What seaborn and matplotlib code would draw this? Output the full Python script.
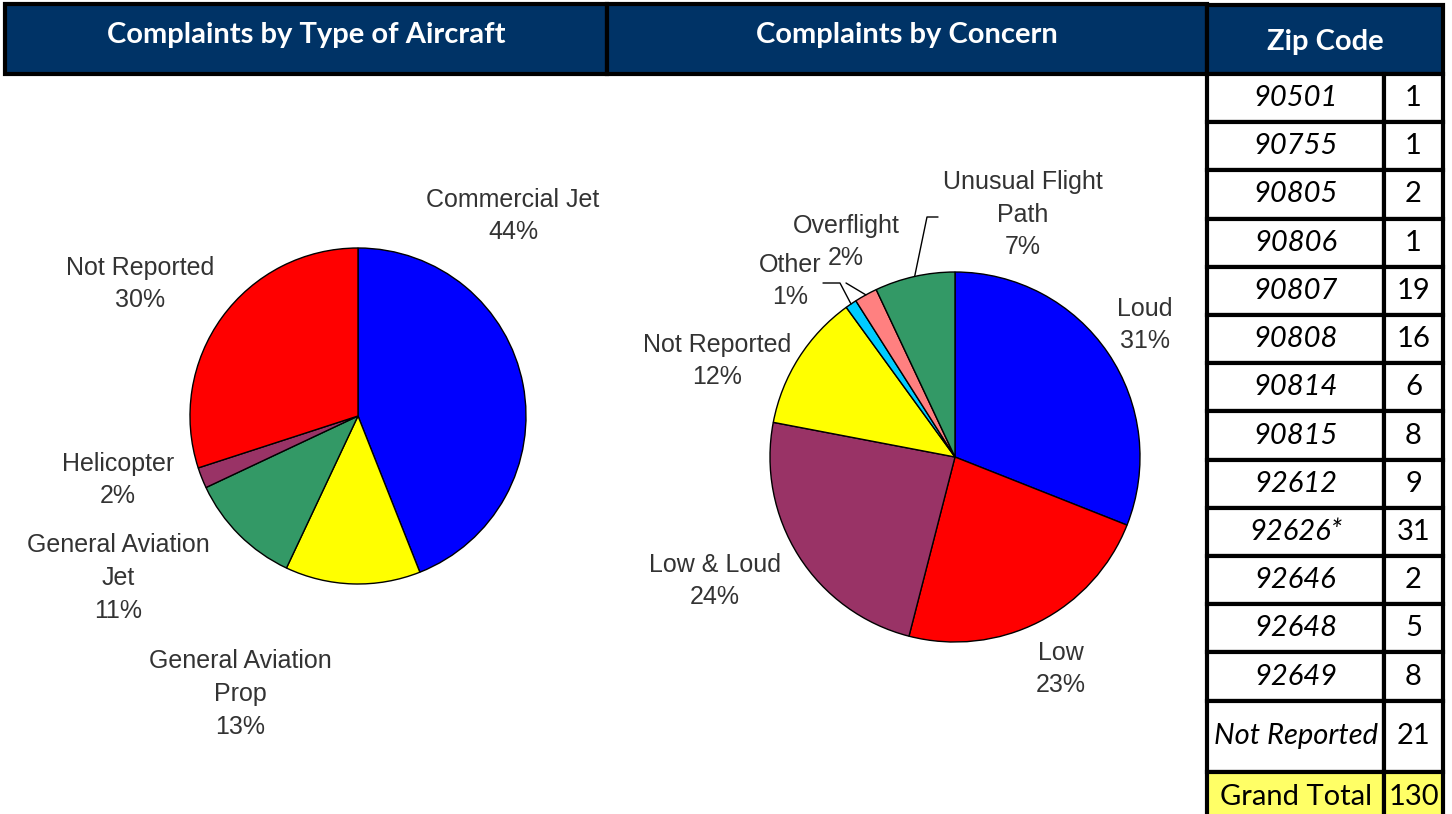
import numpy as np
import matplotlib
matplotlib.use('Agg')
import matplotlib.pyplot as plt
from matplotlib.patches import Rectangle
import seaborn as sns

# --- Data ---
aircraft_types = ['Commercial Jet', 'General Aviation\nProp', 'General Aviation\nJet', 'Helicopter', 'Not Reported']
aircraft_pct = [44, 13, 11, 2, 30]
aircraft_colors = ['#0000FF', '#FFFF00', '#339966', '#993366', '#FF0000']

concerns = ['Loud', 'Low', 'Low & Loud', 'Not Reported', 'Other', 'Overflight', 'Unusual Flight\nPath']
concern_pct = [31, 23, 24, 12, 1, 2, 7]
concern_colors = ['#0000FF', '#FF0000', '#993366', '#FFFF00', '#00CCFF', '#FF8080', '#339966']

zip_codes = ['90501', '90755', '90805', '90806', '90807', '90808', '90814', '90815',
             '92612', '92626*', '92646', '92648', '92649', 'Not Reported']
zip_counts = [1, 1, 2, 1, 19, 16, 6, 8, 9, 31, 2, 5, 8, 21]
grand_total = 130

sns.set_theme(style='white')
plt.rcParams['font.family'] = ['Liberation Sans', 'DejaVu Sans']

W, H = 1452, 814
fig = plt.figure(figsize=(W / 100, H / 100), dpi=100)
ax = fig.add_axes([0, 0, 1, 1])

NAVY = '#003366'
TXT = '#333333'
LABEL_FS = 18
LINE_PX = 32.5
TABLE_FS = 21


def Y(py):
    # pixel row (from top) -> data y
    return H - py


# --- Header boxes ---
for x0, x1, title in [(5, 607, 'Complaints by Type of Aircraft'),
                      (607, 1207, 'Complaints by Concern')]:
    ax.add_patch(Rectangle((x0, Y(74)), x1 - x0, 70, facecolor=NAVY,
                           edgecolor='black', linewidth=3, zorder=3))
    ax.text((x0 + x1) / 2, Y(35), title, color='white', fontsize=21,
            fontweight='bold', family='Lato', ha='center', va='center', zorder=4)


def draw_pie(values, colors, cx, cy, r):
    wedges, _ = ax.pie(values, colors=colors, startangle=90, counterclock=False,
                       center=(cx, Y(cy)), radius=r,
                       wedgeprops=dict(edgecolor='black', linewidth=1))
    return wedges


def edge_point(values, idx, cx, cy, r):
    total = sum(values)
    mid = (sum(values[:idx]) + values[idx] / 2) / total
    ang = np.deg2rad(90 - 360 * mid)
    return cx + r * np.cos(ang), Y(cy) + r * np.sin(ang)


def label(name, pct, lx, ly):
    lines = name.split('\n') + [f'{pct}%']
    n = len(lines)
    for i, line in enumerate(lines):
        ax.text(lx, Y(ly + (i - (n - 1) / 2) * LINE_PX), line, ha='center', va='center',
                fontsize=LABEL_FS, color=TXT)


# --- Pie 1: aircraft type ---
draw_pie(aircraft_pct, aircraft_colors, 358, 416, 168)
label_pos1 = [(513, 216), (240, 694), (118, 578), (118, 480), (140, 284)]
for name, pct, (lx, ly) in zip(aircraft_types, aircraft_pct, label_pos1):
    label(name, pct, lx, ly)

# --- Pie 2: concern ---
draw_pie(concern_pct, concern_colors, 955, 457, 185)
label_pos2 = [(1145, 325), (1061, 669), (715, 581), (717, 361), (790, 281), (846, 242), (1023, 215)]
for name, pct, (lx, ly) in zip(concerns, concern_pct, label_pos2):
    label(name, pct, lx, ly)

# leader lines for small slices
leaders = {6: [(938, 217), (927, 217)], 5: [(846, 283)], 4: [(823, 283), (840, 283)]}
for idx, pts in leaders.items():
    ex, ey = edge_point(concern_pct, idx, 955, 457, 185)
    xs = [p[0] for p in pts] + [ex]
    ys = [Y(p[1]) for p in pts] + [ey]
    ax.plot(xs, ys, color='black', linewidth=1, zorder=5)

# --- Zip code table ---
tx0, tx_mid, tx1 = 1207, 1384, 1443
ax.add_patch(Rectangle((tx0, Y(74)), tx1 - tx0, 69, facecolor=NAVY,
                       edgecolor='black', linewidth=3, zorder=3))
ax.text((tx0 + tx1) / 2, Y(42), 'Zip Code', color='white', fontsize=21,
        fontweight='bold', family='Lato', ha='center', va='center', zorder=4)

row_top = 74
row_h = 48.2
for i, (z, c) in enumerate(zip(zip_codes, zip_counts)):
    h = row_h if z != 'Not Reported' else 71
    top = row_top
    for x0, x1 in [(tx0, tx_mid), (tx_mid, tx1)]:
        ax.add_patch(Rectangle((x0, Y(top + h)), x1 - x0, h, facecolor='white',
                               edgecolor='black', linewidth=3, zorder=3))
    ax.text((tx0 + tx_mid) / 2, Y(top + h / 2), z, fontsize=TABLE_FS, style='italic',
            family='Lato', color='black', ha='center', va='center', zorder=4)
    ax.text((tx_mid + tx1) / 2, Y(top + h / 2), str(c), fontsize=TABLE_FS,
            family='Lato', color='black', ha='center', va='center', zorder=4)
    row_top += h

gt_h = 48
for x0, x1 in [(tx0, tx_mid), (tx_mid, tx1)]:
    ax.add_patch(Rectangle((x0, Y(row_top + gt_h)), x1 - x0, gt_h, facecolor='#FFFF66',
                           edgecolor='black', linewidth=3, zorder=3))
ax.text((tx0 + tx_mid) / 2, Y(row_top + 25), 'Grand Total', fontsize=TABLE_FS,
        family='Lato', color='black', ha='center', va='center', zorder=4)
ax.text((tx_mid + tx1) / 2, Y(row_top + 25), str(grand_total), fontsize=TABLE_FS,
        family='Lato', color='black', ha='center', va='center', zorder=4)

ax.set_xlim(0, W)
ax.set_ylim(0, H)
ax.set_aspect('auto')
ax.axis('off')

fig.savefig('out.png', dpi=100, facecolor='white')
